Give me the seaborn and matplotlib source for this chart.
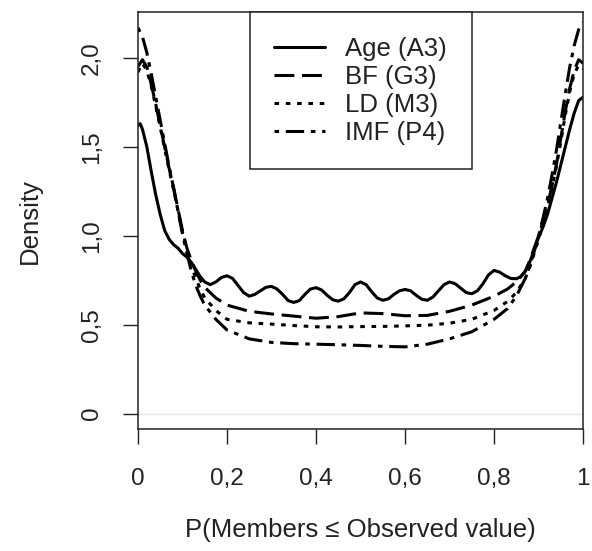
import matplotlib
matplotlib.use("Agg")
import matplotlib.pyplot as plt
import seaborn as sns

# Age (A3) - solid, wavy in the middle
age_x = [0.0, 0.005, 0.01, 0.02, 0.03, 0.04, 0.05, 0.06, 0.07, 0.08, 0.09, 0.10,
         0.11, 0.12, 0.13, 0.14, 0.15, 0.1625, 0.175, 0.1875, 0.20, 0.2125, 0.225,
         0.2375, 0.25, 0.2625, 0.275, 0.2875, 0.30, 0.3125, 0.325, 0.3375, 0.35,
         0.3625, 0.375, 0.3875, 0.40, 0.4125, 0.425, 0.4375, 0.45, 0.4625, 0.475,
         0.4875, 0.50, 0.5125, 0.525, 0.5375, 0.55, 0.5625, 0.575, 0.5875, 0.60,
         0.6125, 0.625, 0.6375, 0.65, 0.6625, 0.675, 0.6875, 0.70, 0.7125, 0.725,
         0.7375, 0.75, 0.7625, 0.775, 0.7875, 0.80, 0.8125, 0.825, 0.8375, 0.85,
         0.86, 0.87, 0.88, 0.89, 0.90, 0.91, 0.92, 0.93, 0.94, 0.95, 0.96, 0.97,
         0.98, 0.99, 1.0]
age_y = [1.62, 1.63, 1.60, 1.50, 1.36, 1.23, 1.12, 1.03, 0.98, 0.95, 0.93, 0.90,
         0.88, 0.85, 0.81, 0.77, 0.74, 0.725, 0.74, 0.765, 0.775, 0.76, 0.72,
         0.68, 0.66, 0.67, 0.69, 0.71, 0.715, 0.70, 0.67, 0.635, 0.625,
         0.635, 0.67, 0.70, 0.708, 0.695, 0.665, 0.64, 0.632, 0.645, 0.68,
         0.725, 0.74, 0.725, 0.685, 0.65, 0.637, 0.645, 0.67, 0.69, 0.698,
         0.69, 0.665, 0.643, 0.637, 0.655, 0.69, 0.725, 0.74, 0.73, 0.705,
         0.68, 0.674, 0.69, 0.73, 0.78, 0.805, 0.795, 0.775, 0.76, 0.758,
         0.77, 0.80, 0.85, 0.92, 0.99, 1.05, 1.12, 1.21, 1.30, 1.40, 1.50, 1.60,
         1.69, 1.76, 1.78]

# shared x grid for the other three
grid_x = [0.0, 0.01, 0.02, 0.03, 0.04, 0.05, 0.06, 0.07, 0.08, 0.09, 0.10, 0.11,
          0.12, 0.13, 0.14, 0.15, 0.175, 0.20, 0.25, 0.30, 0.35, 0.40, 0.45, 0.50,
          0.55, 0.60, 0.65, 0.70, 0.75, 0.80, 0.83, 0.85, 0.87, 0.88, 0.89, 0.90,
          0.91, 0.92, 0.93, 0.94, 0.95, 0.96, 0.97, 0.98, 0.99, 1.0]
bf_y = [1.95, 1.99, 1.95, 1.85, 1.74, 1.62, 1.50, 1.38, 1.27, 1.15, 1.03, 0.93,
        0.86, 0.80, 0.75, 0.71, 0.65, 0.61, 0.575, 0.56, 0.548, 0.536, 0.545, 0.566,
        0.562, 0.55, 0.552, 0.575, 0.61, 0.66, 0.70, 0.74, 0.80, 0.86, 0.93, 1.00,
        1.08, 1.17, 1.28, 1.40, 1.55, 1.70, 1.83, 1.93, 1.99, 1.97]
ld_y = [1.92, 1.97, 1.93, 1.84, 1.73, 1.61, 1.49, 1.37, 1.26, 1.14, 1.02, 0.92,
        0.83, 0.76, 0.70, 0.65, 0.58, 0.53, 0.51, 0.503, 0.495, 0.488, 0.487, 0.489,
        0.49, 0.493, 0.497, 0.508, 0.53, 0.58, 0.63, 0.68, 0.76, 0.82, 0.90, 0.98,
        1.07, 1.16, 1.27, 1.39, 1.53, 1.68, 1.81, 1.91, 1.96, 1.94]
imf_y = [2.17, 2.12, 2.03, 1.91, 1.78, 1.65, 1.52, 1.39, 1.27, 1.14, 1.01, 0.90,
         0.80, 0.72, 0.66, 0.61, 0.53, 0.47, 0.42, 0.40, 0.393, 0.39, 0.387, 0.383,
         0.378, 0.375, 0.39, 0.42, 0.46, 0.53, 0.59, 0.66, 0.76, 0.83, 0.91, 1.00,
         1.10, 1.21, 1.34, 1.48, 1.64, 1.80, 1.95, 2.07, 2.16, 2.20]

x_ticks = [0, 0.2, 0.4, 0.6, 0.8, 1]
x_labels = ["0", "0,2", "0,4", "0,6", "0,8", "1"]
y_ticks = [0, 0.5, 1.0, 1.5, 2.0]
y_labels = ["0", "0,5", "1,0", "1,5", "2,0"]

sns.set_theme(style="ticks")
plt.rcParams['font.family'] = ['Liberation Sans', 'DejaVu Sans']

fig = plt.figure(figsize=(5.92, 5.51), dpi=100)
ax = fig.add_axes([0.233, 0.2214, 0.752, 0.7564])

ax.axhline(0, color="#e6e6e6", lw=1, zorder=0)

lw = 2.2
sns.lineplot(x=age_x, y=age_y, ax=ax, color="black", lw=lw, label="Age (A3)")
sns.lineplot(x=grid_x, y=bf_y, ax=ax, color="black", lw=lw,
             linestyle=(0, (6.5, 2.5)), label="BF (G3)")
sns.lineplot(x=grid_x, y=ld_y, ax=ax, color="black", lw=lw,
             linestyle=(0, (1.5, 2.2)), label="LD (M3)")
sns.lineplot(x=grid_x, y=imf_y, ax=ax, color="black", lw=lw,
             linestyle=(0, (1.5, 2.2, 6, 2.2)), label="IMF (P4)")

ax.set_xlim(0, 1)
ax.set_ylim(-0.087, 2.257)
ax.set_xticks(x_ticks)
ax.set_xticklabels(x_labels, fontsize=17.5)
ax.set_yticks(y_ticks)
ax.set_yticklabels(y_labels, fontsize=17.5, rotation=90, va="center")
ax.tick_params(axis="both", length=11, width=1, color="#222222", labelcolor="#222222")
ax.tick_params(axis="x", pad=17)
ax.tick_params(axis="y", pad=14)

for s in ax.spines.values():
    s.set_visible(True)
    s.set_color("#222222")
    s.set_linewidth(1.1)

ax.set_xlabel("P(Members \u2264 Observed value)", fontsize=18.5, labelpad=20, color="#222222")
ax.set_ylabel("Density", fontsize=18.5, labelpad=28, color="#222222")

leg = ax.legend(loc="upper center", bbox_to_anchor=(0.5, 1.0), fontsize=18.5,
                handlelength=2.0, labelspacing=0.16, handletextpad=0.78,
                borderpad=0.95, borderaxespad=0, fancybox=False, framealpha=1)
leg.get_frame().set_edgecolor("#222222")
leg.get_frame().set_linewidth(1.1)
for t in leg.get_texts():
    t.set_color("#222222")

fig.savefig("out.png", dpi=100)
